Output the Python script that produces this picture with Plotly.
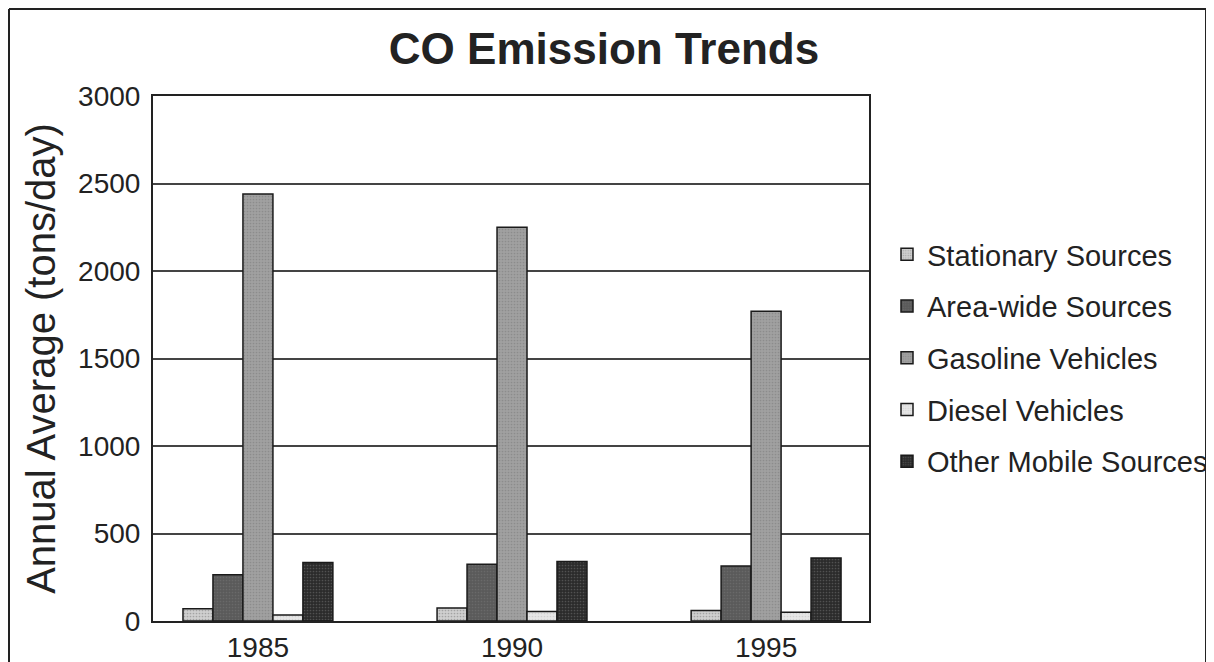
import plotly.graph_objects as go

years = ["1985", "1990", "1995"]
series_names = ["Stationary Sources", "Area-wide Sources", "Gasoline Vehicles",
                "Diesel Vehicles", "Other Mobile Sources"]
stationary = [70, 75, 60]
area_wide = [265, 325, 315]
gasoline = [2440, 2250, 1770]
diesel = [35, 55, 50]
other_mobile = [335, 340, 360]
y_ticks = [0, 500, 1000, 1500, 2000, 2500, 3000]

values = [stationary, area_wide, gasoline, diesel, other_mobile]
colors = ["#cfcfcf", "#5a5a5a", "#a0a0a0", "#e6e6e6", "#2b2b2b"]

fig = go.Figure()
for i, (name, vals, col) in enumerate(zip(series_names, values, colors)):
    fig.add_trace(go.Bar(
        x=years, y=vals, name=name, legendgroup=f"g{i}",
        marker=dict(color=col, line=dict(color="#1a1a1a", width=1.5),
                    pattern=dict(shape=".", size=3, solidity=0.25,
                                 fgcolor="#777777" if i != 3 else "#bbbbbb")),
    ))

# page body has an 8px margin, so the figure is drawn 8px in from the window corner
OFF = 8
W, H = 1214 - OFF, 662 - OFF
L = 153 - OFF
R = W - (869 - OFF)
T = 96 - OFF
B = H - (621 - OFF)
pw, ph = W - L - R, H - T - B

def px_x(p):
    return (p - OFF - L) / pw

def px_y(p):
    return (H - B - (p - OFF)) / ph

frame_line = dict(color="#222222", width=2)
frame_left, frame_right, frame_top, frame_bottom = 9, 1206, 9, 662

fig.update_layout(
    width=W, height=H,
    margin=dict(l=L, r=R, t=T, b=B, autoexpand=False),
    paper_bgcolor="white", plot_bgcolor="white",
    barmode="group", bargap=0.41, bargroupgap=0,
    font=dict(family="Liberation Sans, Arial, sans-serif", color="#222222"),
    title=dict(text="<b>CO Emission Trends</b>", x=px_x(604), xref="paper", xanchor="center",
               y=1 - (49 - OFF) / H, yanchor="middle",
               font=dict(size=44, color="#222222")),
    showlegend=True,
    legend=dict(x=px_x(887), xanchor="left", y=px_y(358), yanchor="middle",
                font=dict(size=29, color="#222222"), tracegroupgap=11,
                bgcolor="rgba(0,0,0,0)", itemwidth=30),
    xaxis=dict(type="category", range=[-0.413, 2.405], showgrid=False, automargin=False,
               showline=True, linecolor="#222222", linewidth=2, mirror=True,
               ticks="", tickfont=dict(size=28), ticklabelstandoff=0),
    yaxis=dict(range=[0, 3000], tickvals=y_ticks, showgrid=True, gridcolor="#444444",
               gridwidth=1.5, showline=True, linecolor="#222222", linewidth=2, mirror=True,
               ticks="", tickfont=dict(size=28), zeroline=False, automargin=False,
               ticklabelstandoff=5,
               title=dict(text="Annual Average (tons/day)", font=dict(size=40), standoff=10)),
    shapes=[
        dict(type="line", xref="paper", yref="paper", x0=px_x(frame_left), x1=px_x(frame_left),
             y0=px_y(frame_bottom), y1=px_y(frame_top), line=frame_line, layer="below"),
        dict(type="line", xref="paper", yref="paper", x0=px_x(frame_right), x1=px_x(frame_right),
             y0=px_y(frame_bottom), y1=px_y(frame_top), line=frame_line, layer="below"),
        dict(type="line", xref="paper", yref="paper", x0=px_x(frame_left), x1=px_x(frame_right),
             y0=px_y(frame_top), y1=px_y(frame_top), line=frame_line, layer="below"),
    ],
)

fig.write_html("out.html")
